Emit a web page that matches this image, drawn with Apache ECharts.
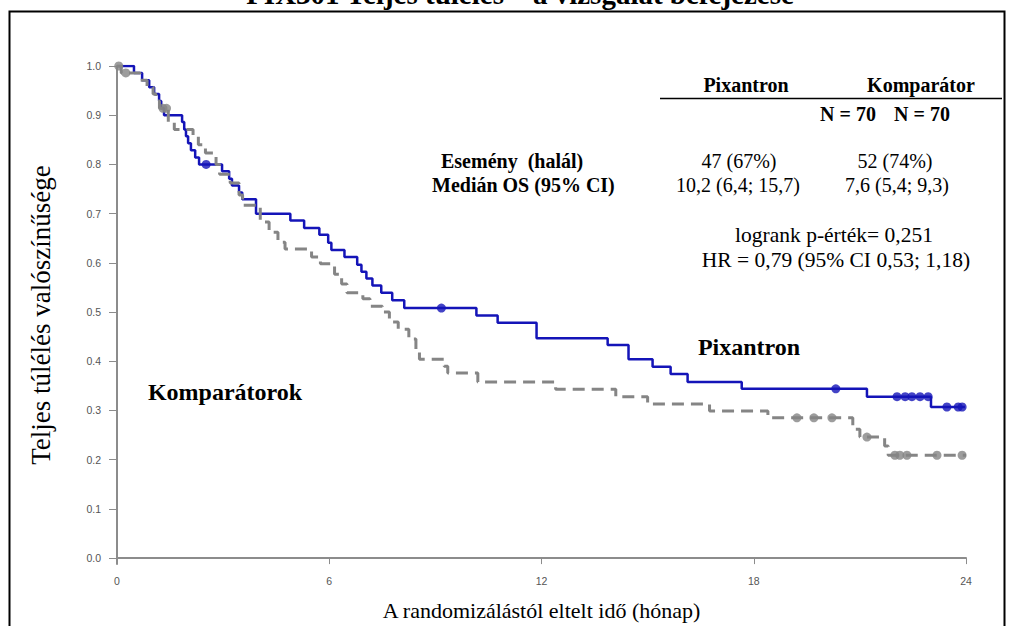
<!DOCTYPE html>
<html>
<head>
<meta charset="utf-8">
<script src="https://cdn.jsdelivr.net/npm/echarts@6/dist/echarts.min.js"></script>
<style>html,body{margin:0;padding:0;background:#fff;}#c{width:1010px;height:626px;}</style>
</head>
<body>
<div id="c"></div>
<script>
// ---- data ----
const xTicks = [0, 6, 12, 18, 24];
const yTicks = [0.0, 0.1, 0.2, 0.3, 0.4, 0.5, 0.6, 0.7, 0.8, 0.9, 1.0];

const pixTime = [0, 0.48, 0.71, 0.91, 1.05, 1.19, 1.25, 1.33, 1.84, 1.90, 1.95, 2.01, 2.09, 2.21, 2.32, 2.97, 3.17, 3.25, 3.45, 3.54, 3.93, 4.90, 5.29, 5.72, 5.97, 6.06, 6.43, 6.79, 6.91, 7.05, 7.22, 7.47, 7.78, 8.12, 10.16, 10.76, 11.86, 13.87, 14.46, 15.14, 15.65, 16.13, 17.66, 21.20, 23.01, 23.97];
const pixSurv = [1.0, 0.986, 0.971, 0.957, 0.943, 0.929, 0.914, 0.900, 0.886, 0.871, 0.857, 0.843, 0.829, 0.814, 0.800, 0.786, 0.771, 0.757, 0.743, 0.729, 0.700, 0.686, 0.671, 0.657, 0.641, 0.626, 0.612, 0.596, 0.582, 0.568, 0.554, 0.539, 0.524, 0.508, 0.493, 0.478, 0.447, 0.433, 0.404, 0.389, 0.374, 0.358, 0.344, 0.328, 0.307, 0.307];
const pixCensTime = [2.52, 9.17, 20.32, 22.05, 22.28, 22.47, 22.70, 22.93, 23.46, 23.78, 23.89];
const pixCensSurv = [0.800, 0.508, 0.344, 0.328, 0.328, 0.328, 0.328, 0.328, 0.307, 0.307, 0.307];

const kompTime = [0, 0.12, 0.65, 0.85, 1.02, 1.10, 1.20, 1.45, 1.62, 2.15, 2.30, 2.50, 2.80, 2.90, 3.20, 3.45, 3.55, 4.05, 4.30, 4.55, 4.75, 5.50, 5.75, 6.15, 6.35, 6.50, 6.95, 7.15, 7.50, 7.70, 7.95, 8.25, 8.45, 8.55, 9.25, 9.35, 10.20, 12.40, 14.10, 15.00, 16.75, 18.40, 20.80, 21.00, 21.70, 21.80, 24.00];
const kompSurv = [1.0, 0.986, 0.971, 0.957, 0.943, 0.929, 0.914, 0.886, 0.871, 0.857, 0.840, 0.823, 0.800, 0.780, 0.762, 0.738, 0.717, 0.683, 0.662, 0.642, 0.628, 0.612, 0.598, 0.577, 0.557, 0.539, 0.527, 0.512, 0.500, 0.480, 0.465, 0.445, 0.420, 0.404, 0.390, 0.376, 0.358, 0.343, 0.328, 0.313, 0.299, 0.285, 0.262, 0.246, 0.228, 0.209, 0.209];
const kompCensTime = [0.05, 0.25, 1.30, 1.40, 19.22, 19.70, 20.21, 21.20, 21.99, 22.13, 22.33, 23.18, 23.89];
const kompCensSurv = [1.0, 0.986, 0.914, 0.914, 0.285, 0.285, 0.285, 0.246, 0.209, 0.209, 0.209, 0.209, 0.209];

const titleText = 'PIX301 Teljes túlélés – a vizsgálat befejezése';
const yName = 'Teljes túlélés valószínűsége';
const xName = 'A randomizálástól eltelt idő (hónap)';

// ---- chart ----
const zip = (a, b) => a.map((v, i) => [v, b[i]]);
const BLUE = '#1414b8';
const GRAY = '#858585';
const SERIF = '"Liberation Serif", "Times New Roman", serif';
const SANS = '"Liberation Sans", Arial, sans-serif';

const chart = echarts.init(document.getElementById('c'), null, {renderer: 'svg'});

function txt(x, y, text, size, bold, align) {
  return {
    type: 'text', silent: true, z: 100,
    style: {
      x: x, y: y, text: text, fill: '#000',
      font: (bold ? 'bold ' : '') + size + 'px ' + SERIF,
      textAlign: align || 'center', textVerticalAlign: 'middle'
    }
  };
}

chart.setOption({
  animation: false,
  backgroundColor: '#fff',
  grid: {left: 117, right: 44, top: 66, bottom: 62},
  xAxis: {
    type: 'value', min: 0, max: 24,
    name: xName, nameLocation: 'middle', nameGap: 35,
    nameTextStyle: {fontFamily: SERIF, fontSize: 22, color: '#000'},
    axisLine: {show: true, lineStyle: {color: '#8c8c8c', width: 2}},
    axisTick: {show: true, length: 6, lineStyle: {color: '#8c8c8c', width: 1}, customValues: xTicks},
    axisLabel: {customValues: xTicks, color: '#555', fontSize: 10.5, fontFamily: SANS, margin: 11},
    splitLine: {show: false}
  },
  yAxis: {
    type: 'value', min: -0.012, max: 1.0,
    name: yName, nameLocation: 'middle', nameGap: 63,
    nameTextStyle: {fontFamily: SERIF, fontSize: 27, color: '#000'},
    axisLine: {show: true, lineStyle: {color: '#8c8c8c', width: 2}},
    axisTick: {show: true, length: 8, lineStyle: {color: '#8c8c8c', width: 1}, customValues: yTicks},
    axisLabel: {customValues: yTicks, color: '#555', fontSize: 10.5, fontFamily: SANS, margin: 16,
      formatter: v => v.toFixed(1)},
    splitLine: {show: false}
  },
  series: [
    {type: 'line', name: 'Pixantron', step: 'end', showSymbol: false, symbol: 'none',
      data: zip(pixTime, pixSurv), lineStyle: {color: BLUE, width: 2.5}, z: 2},
    {type: 'scatter', name: 'Pixantron cens', data: zip(pixCensTime, pixCensSurv),
      symbol: 'circle', symbolSize: 9, itemStyle: {color: BLUE}, z: 3},
    {type: 'line', name: 'Komparátor', step: 'end', showSymbol: false, symbol: 'none',
      data: zip(kompTime, kompSurv), lineStyle: {color: GRAY, width: 3, type: [12, 7]}, z: 4},
    {type: 'scatter', name: 'Komparátor cens', data: zip(kompCensTime, kompCensSurv),
      symbol: 'circle', symbolSize: 9, itemStyle: {color: GRAY}, z: 5}
  ],
  graphic: [
    {type: 'rect', silent: true, z: 0, shape: {x: 9.5, y: 11.5, width: 995, height: 640},
      style: {fill: 'none', stroke: '#000', lineWidth: 2}},
    txt(520, -6, titleText, 29, true),
    txt(746, 85, 'Pixantron', 20, true),
    txt(921, 85, 'Komparátor', 20, true),
    {type: 'line', silent: true, shape: {x1: 660, y1: 98.5, x2: 1002, y2: 98.5}, style: {stroke: '#000', lineWidth: 1.5}},
    txt(848, 114, 'N = 70', 20, true),
    txt(922, 114, 'N = 70', 20, true),
    txt(441, 161, 'Esemény  (halál)', 20, true, 'left'),
    txt(432, 185, 'Medián OS (95% CI)', 20, true, 'left'),
    txt(739, 161, '47 (67%)', 20, false),
    txt(895, 161, '52 (74%)', 20, false),
    txt(738, 185, '10,2 (6,4; 15,7)', 20, false),
    txt(897, 185, '7,6 (5,4; 9,3)', 20, false),
    txt(834, 235, 'logrank p-érték= 0,251', 21.5, false),
    txt(836, 260, 'HR = 0,79 (95% CI 0,53; 1,18)', 21.5, false),
    txt(749, 347, 'Pixantron', 24, true),
    txt(225, 392, 'Komparátorok', 24, true)
  ]
});
</script>
</body>
</html>
